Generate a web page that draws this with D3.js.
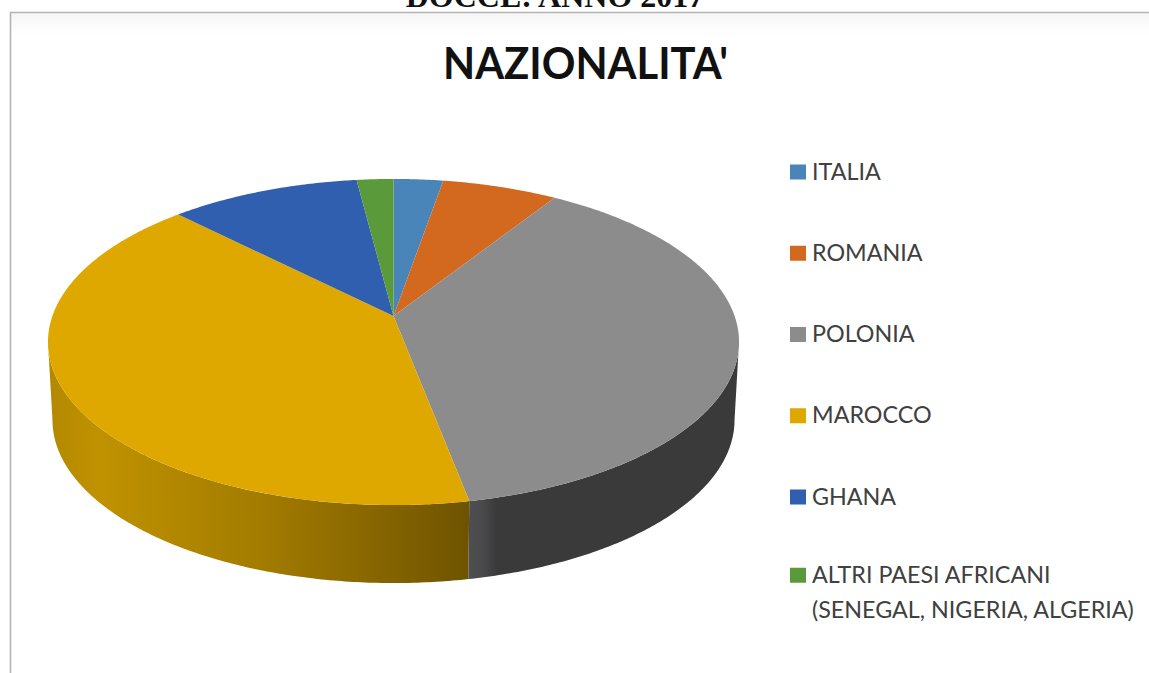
<!DOCTYPE html>
<html lang="it">
<head>
<meta charset="utf-8">
<title>Nazionalità</title>
<script src="https://cdn.jsdelivr.net/npm/d3@7"></script>
<style>
  html, body { margin: 0; padding: 0; background: #fff; }
  svg { display: block; }
</style>
</head>
<body>
<svg id="chart" width="1149" height="673"></svg>
<script>
// Nationality shares (percent), clockwise from twelve o'clock
const categories = ["ITALIA", "ROMANIA", "POLONIA", "MAROCCO", "GHANA", "ALTRI PAESI AFRICANI"];
const shares = [2.7, 6.3, 38, 40.6, 10.4, 2.0];
const colors = ["#4a85ba", "#d2691f", "#8c8c8c", "#dfa800", "#2f5fae", "#5b9a3a"];
const legendSecondLine = "(SENEGAL, NIGERIA, ALGERIA)";
const sheetHeading = "DOCCE: ANNO 2017";
const chartTitle = "NAZIONALITA'";

const width = 1149, height = 673;
const svg = d3.select("#chart");
const defs = svg.append("defs");

// Plot plane seen in perspective: the unit circle is mapped with a projective divide
const centre = { x: 393.5, y: 316 };
const tilt = 0.1595, spanX = 341.1, spanY = 158.9, wallDepth = 78, wallTaper = 0.987;

function project(angle, drop = 0, taper = 1) {
  const u = Math.sin(angle), v = -Math.cos(angle), w = 1 - tilt * v;
  return [centre.x + taper * spanX * u / w, centre.y + spanY * v / w + drop];
}

const pie = d3.pie().sort(null).value(d => d);
const arcs = pie(shares);
const line = d3.line();

function sampleAngles(a0, a1) {
  const n = Math.max(2, Math.ceil((a1 - a0) / 0.01));
  return d3.range(n + 1).map(i => a0 + (a1 - a0) * i / n);
}

// Page frame and the document heading cut by the page top
svg.append("text")
  .attr("x", 555).attr("y", 7)
  .attr("text-anchor", "middle")
  .attr("font-family", "'Liberation Serif', serif")
  .attr("font-weight", "bold").attr("font-size", 32)
  .attr("fill", "#111")
  .text(sheetHeading);

defs.append("linearGradient").attr("id", "panelShade")
  .attr("x1", 0).attr("x2", 0).attr("y1", 0).attr("y2", 1)
  .selectAll("stop").data([["0%", "#f6f6f6"], ["100%", "#ffffff"]]).join("stop")
  .attr("offset", d => d[0]).attr("stop-color", d => d[1]);
svg.append("rect").attr("x", 10).attr("y", 13).attr("width", width - 10).attr("height", 22)
  .attr("fill", "url(#panelShade)");
svg.append("path")
  .attr("d", `M10.5 ${height}V12.5H${width}`)
  .attr("fill", "none").attr("stroke", "#b4b4b4").attr("stroke-width", 1.6);

// Title
svg.append("text")
  .attr("x", 443).attr("y", 78.5)
  .attr("font-family", "Lato, sans-serif")
  .attr("font-weight", "bold").attr("font-size", 44)
  .attr("textLength", 285).attr("lengthAdjust", "spacingAndGlyphs")
  .attr("fill", "#111")
  .text(chartTitle);

// Shading of the visible rim, one horizontal ramp per slice
const wallStops = {
  3: [["0%", "#b38800"], ["12%", "#c09200"], ["50%", "#a37c00"], ["75%", "#8a6800"], ["100%", "#6e5300"]],
  2: [["0%", "#4e4e52"], ["5%", "#4a4a4c"], ["10%", "#3a3a3a"], ["100%", "#3a3a3a"]]
};
const rimStart = Math.PI - Math.acos(tilt), rimEnd = Math.PI + Math.acos(tilt);

arcs.forEach((d, i) => {
  const a0 = Math.max(d.startAngle, rimStart), a1 = Math.min(d.endAngle, rimEnd);
  if (a1 <= a0) return;
  const top = sampleAngles(a0, a1).map(a => project(a));
  const bottom = sampleAngles(a0, a1).map(a => project(a, wallDepth, wallTaper)).reverse();
  const xs = top.map(p => p[0]);
  const grad = defs.append("linearGradient").attr("id", `wall${i}`)
    .attr("gradientUnits", "userSpaceOnUse")
    .attr("x1", d3.min(xs)).attr("x2", d3.max(xs)).attr("y1", 0).attr("y2", 0);
  grad.selectAll("stop").data(wallStops[i]).join("stop")
    .attr("offset", s => s[0]).attr("stop-color", s => s[1]);
  svg.append("path")
    .attr("d", line(top.concat(bottom)) + "Z")
    .attr("fill", `url(#wall${i})`);
});

// Top face of the pie
svg.append("g").selectAll("path").data(arcs).join("path")
  .attr("d", d => line([[centre.x, centre.y], ...sampleAngles(d.startAngle, d.endAngle).map(a => project(a))]) + "Z")
  .attr("fill", (d, i) => colors[i]);

// Legend: evenly spaced rows, the two-line last entry sits slightly higher
const rowY = d3.scaleLinear().domain([0, 4]).range([172, 497]);
const wrappedRowLift = 3, legendLineGap = 35;
const entryY = i => rowY(i) - (i === categories.length - 1 ? wrappedRowLift : 0);
const legend = svg.append("g").attr("font-family", "Lato, sans-serif").attr("font-size", 23.3).attr("fill", "#404040");
const rows = legend.selectAll("g").data(categories).join("g")
  .attr("transform", (d, i) => `translate(0,${entryY(i)})`);
rows.append("rect")
  .attr("x", 790).attr("y", -7.5).attr("width", 16).attr("height", 15)
  .attr("fill", (d, i) => colors[i]);
rows.append("text")
  .attr("x", 812).attr("y", 7.5)
  .text(d => d);
legend.append("text")
  .attr("x", 812).attr("y", entryY(categories.length - 1) + 7.5 + legendLineGap)
  .text(legendSecondLine);
</script>
</body>
</html>
